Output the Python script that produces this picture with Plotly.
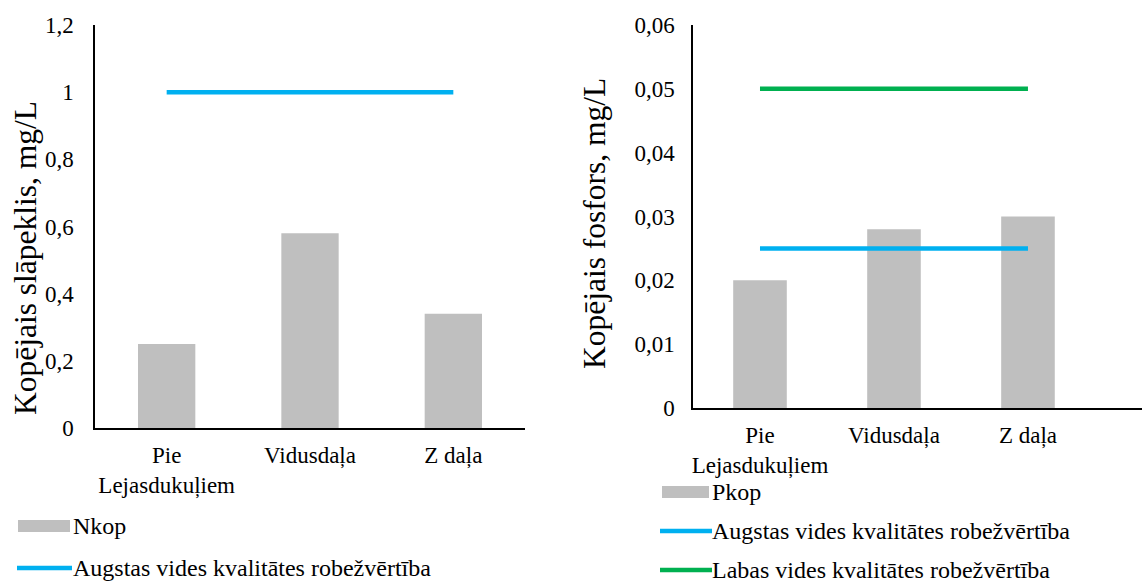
import plotly.graph_objects as go

# Sampling sites (shared by both panels)
categories = ["Pie<br>Lejasdukuļiem", "Vidusdaļa", "Z daļa"]

# Total nitrogen, mg/L
n_name = "Nkop"
n_values = [0.25, 0.58, 0.34]
n_high_name = "Augstas vides kvalitātes robežvērtība"
n_high_limit = [1.0, 1.0, 1.0]

# Total phosphorus, mg/L
p_name = "Pkop"
p_values = [0.020, 0.028, 0.030]
p_high_name = "Augstas vides kvalitātes robežvērtība"
p_high_limit = [0.025, 0.025, 0.025]
p_good_name = "Labas vides kvalitātes robežvērtība"
p_good_limit = [0.05, 0.05, 0.05]

# Axis tick labels
n_tickvals = [0, 0.2, 0.4, 0.6, 0.8, 1.0, 1.2]
n_ticktext = ["0", "0,2", "0,4", "0,6", "0,8", "1", "1,2"]
p_tickvals = [0, 0.01, 0.02, 0.03, 0.04, 0.05, 0.06]
p_ticktext = ["0", "0,01", "0,02", "0,03", "0,04", "0,05", "0,06"]

n_title = "Kopējais slāpeklis, mg/L"
p_title = "Kopējais fosfors, mg/L"

W, H = 1142, 582
FONT = "Liberation Serif, Times New Roman, serif"
GRAY = "#BFBFBF"
BLUE = "#00B0F0"
GREEN = "#00B050"


def px(x):
    return x / W


def py(y):
    return 1 - y / H


fig = go.Figure()

# Left panel: nitrogen
fig.add_trace(go.Bar(x=categories, y=n_values, name=n_name, marker_color=GRAY,
                     marker_line_width=0, width=0.4, xaxis="x", yaxis="y",
                     showlegend=False))
fig.add_trace(go.Scatter(x=categories, y=n_high_limit, name=n_high_name, mode="lines",
                         line=dict(color=BLUE, width=4.5), xaxis="x", yaxis="y",
                         showlegend=False))

# Right panel: phosphorus
fig.add_trace(go.Bar(x=categories, y=p_values, name=p_name, marker_color=GRAY,
                     marker_line_width=0, width=0.4, xaxis="x2", yaxis="y2",
                     showlegend=False))
fig.add_trace(go.Scatter(x=categories, y=p_high_limit, name=p_high_name, mode="lines",
                         line=dict(color=BLUE, width=4.5), xaxis="x2", yaxis="y2",
                         showlegend=False))
fig.add_trace(go.Scatter(x=categories, y=p_good_limit, name=p_good_name, mode="lines",
                         line=dict(color=GREEN, width=4.5), xaxis="x2", yaxis="y2",
                         showlegend=False))

axis_common = dict(showgrid=False, zeroline=False, showline=True, linecolor="black",
                   linewidth=1.5, ticks="", automargin=False,
                   tickfont=dict(family=FONT, size=23, color="black"))

fig.update_layout(
    template="none",
    width=W, height=H,
    margin=dict(l=0, r=0, t=0, b=0, pad=0),
    paper_bgcolor="white", plot_bgcolor="white",
    font=dict(family=FONT, size=23, color="black"),
    xaxis=dict(domain=[px(95), px(525)], range=[-0.5, 2.5], anchor="y",
               ticklabelstandoff=6, **axis_common),
    yaxis=dict(domain=[py(428), py(25)], range=[0, 1.2], anchor="x",
               tickvals=n_tickvals, ticktext=n_ticktext, ticklabelstandoff=15,
               **axis_common),
    xaxis2=dict(domain=[px(693), 1.0], range=[-0.5, 2.851], anchor="y2",
                ticklabelstandoff=6, **axis_common),
    yaxis2=dict(domain=[py(408), py(25)], range=[0, 0.06], anchor="x2",
                tickvals=p_tickvals, ticktext=p_ticktext, ticklabelstandoff=12,
                **axis_common),
)

# Rotated axis titles
for x, y, text in [(25, 258, n_title), (595, 224, p_title)]:
    fig.add_annotation(x=px(x), y=py(y), xref="paper", yref="paper", text=text,
                       textangle=-90, showarrow=False, xanchor="center", yanchor="middle",
                       font=dict(family=FONT, size=31.5, color="black"))

# Legend entries drawn below each panel
legend_items = [
    # (kind, color, x0, x1, y, text_x, label)
    ("bar", GRAY, 18, 70, 526, 71, n_name),
    ("line", BLUE, 17, 72, 568, 71, n_high_name),
    ("bar", GRAY, 662, 709, 492, 710, p_name),
    ("line", BLUE, 660, 712, 531, 710, p_high_name),
    ("line", GREEN, 660, 712, 570, 710, p_good_name),
]
for kind, color, x0, x1, y, tx, label in legend_items:
    if kind == "bar":
        fig.add_shape(type="rect", xref="paper", yref="paper",
                      x0=px(x0), x1=px(x1), y0=py(y - 6), y1=py(y + 6),
                      fillcolor=color, line=dict(width=0))
    else:
        fig.add_shape(type="line", xref="paper", yref="paper",
                      x0=px(x0), x1=px(x1), y0=py(y), y1=py(y),
                      line=dict(color=color, width=4.5))
    fig.add_annotation(x=px(tx), y=py(y), xref="paper", yref="paper", text=label,
                       showarrow=False, xanchor="left", yanchor="middle",
                       font=dict(family=FONT, size=24, color="black"))

fig.write_html("out.html")
